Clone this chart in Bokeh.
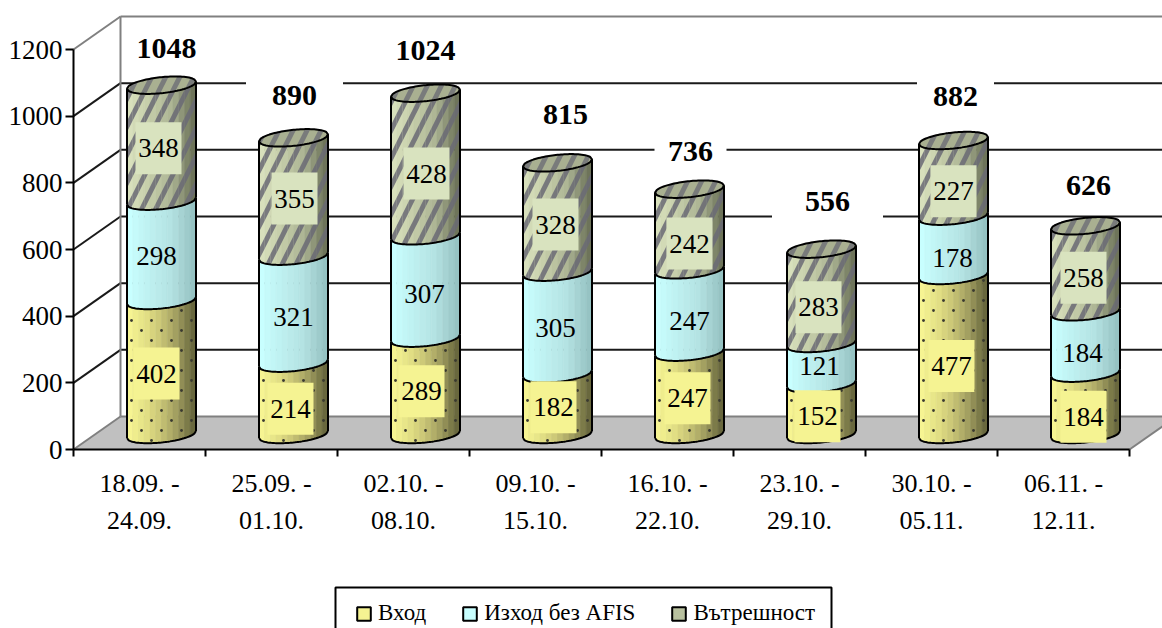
import numpy as np
from bokeh.core.properties import value
from bokeh.embed import file_html
from bokeh.models import FixedTicker, Legend, LegendItem, LinearAxis, Range1d
from bokeh.plotting import figure
from bokeh.resources import INLINE

# ---------- data ----------
periods = ["18.09. -\n24.09.", "25.09. -\n01.10.", "02.10. -\n08.10.", "09.10. -\n15.10.",
           "16.10. -\n22.10.", "23.10. -\n29.10.", "30.10. -\n05.11.", "06.11. -\n12.11."]
series_names = ["Вход", "Изход без AFIS", "Вътрешност"]
vhod = [402, 214, 289, 182, 247, 152, 477, 184]
izhod = [298, 321, 307, 305, 247, 121, 178, 184]
vatr = [348, 355, 428, 328, 242, 283, 227, 258]
totals = [1048, 890, 1024, 815, 736, 556, 882, 626]
y_ticks = [0, 200, 400, 600, 800, 1000, 1200]

# ---------- style: label nudges in px (right, down) ----------
nudge_dx = [[-5, -3, -4, -4, -2, -4, -2, -2], [-5, 0, -1, -2, 0, -2, -1, -3], [-3, 1, 1, -2, 0, -3, 0, -2]]
nudge_dy = [[6, 10, 5, 3, 5, 7, 11, 13], [5, 7, 6.5, 4.5, 9.5, 2, 12, 10], [5, 1.5, 9, 7, 14, 11, 13, 9]]
total_dx = [5, 1, 0, 8, 1, 6, 2, 3]
total_gap = [37, 42, 43, 48, 38, 48, 44, 40]
mask_w = [75, 97, 75, 75, 72, 111, 77, 75]

W, H = 1162, 628
PXX, PXY = 132.0, 1 / 3.0          # px per x unit, px per y unit
X0, Y0 = 73, 449                   # canvas position of data origin
ux = lambda px: px / PXX
uy = lambda px: px / PXY
DEPTH_X, DEPTH_Y = ux(47), uy(33)
BAR_DX, BAR_DY = ux(22), uy(15)    # bar axis position inside the depth
A, B, TILT = 34.5, 8.0, 3.5        # ellipse half-width, half-height, tilt (px)
FONT = "Liberation Serif"

p = figure(width=W, height=H, output_backend="svg", toolbar_location=None,
           x_range=Range1d(-X0 / PXX, (W - X0) / PXX),
           y_range=Range1d(-(H - Y0) / PXY, Y0 / PXY),
           x_axis_location=None, y_axis_location=None, min_border=0,
           outline_line_color=None, background_fill_color="white", border_fill_color="white")
p.grid.visible = False

n = len(periods)
# floor
p.patch([0, DEPTH_X, n + DEPTH_X, n], [0, DEPTH_Y, DEPTH_Y, 0], fill_color="#C0C0C0", line_color=None)
# walls / grid
for t in y_ticks:
    col = "#808080" if t in (0, 1200) else "#1a1a1a"
    p.line([0, DEPTH_X], [t, t + DEPTH_Y], line_color=col, line_width=2)
    if t > 0:
        p.line([DEPTH_X, n + DEPTH_X], [t + DEPTH_Y, t + DEPTH_Y], line_color=col, line_width=2)
p.line([DEPTH_X, DEPTH_X], [DEPTH_Y, 1200 + DEPTH_Y], line_color="#808080", line_width=2)
p.line([DEPTH_X, n + DEPTH_X], [DEPTH_Y, DEPTH_Y], line_color="#808080", line_width=2)
p.line([n, n + DEPTH_X], [0, DEPTH_Y], line_color="#808080", line_width=2)

# masks behind totals
tx = [i + 0.5 + BAR_DX + ux(total_dx[i]) for i in range(n)]
ty = [totals[i] + BAR_DY + uy(total_gap[i]) for i in range(n)]
p.rect(tx, ty, width=[ux(w) for w in mask_w], height=uy(52), fill_color="white", line_color=None)


def ramp(stops):
    t = np.linspace(0, 1, 12)
    pos = np.linspace(0, 1, len(stops))
    out = []
    for v in t:
        c = [int(np.interp(v, pos, [s[k] for s in stops])) for k in range(3)]
        out.append("#%02x%02x%02x" % tuple(c))
    return out


ramps = [
    ramp([(246, 244, 146), (228, 225, 134), (200, 196, 118), (160, 157, 95), (105, 104, 62)]),
    ramp([(200, 255, 255), (190, 240, 240), (180, 226, 226), (150, 195, 195)]),
    ramp([(216, 224, 188), (196, 204, 168), (172, 180, 148), (110, 116, 90)]),
]
box_col = ["#F5F392", None, "#D9E3BF"]


def lower(dx):
    return TILT * dx / A - B * np.sqrt(np.maximum(0, 1 - (dx / A) ** 2))   # up-positive px


def upper(dx):
    return TILT * dx / A + B * np.sqrt(np.maximum(0, 1 - (dx / A) ** 2))


edges = np.linspace(-A, A, 13)
series = [vhod, izhod, vatr]
for i in range(n):
    cx = i + 0.5 + BAR_DX
    base = 0.0
    for s in range(3):
        v = series[s][i]
        y0 = base + BAR_DY
        y1 = base + v + BAR_DY
        xs, ys = [], []
        for j in range(12):
            d = np.linspace(edges[j], edges[j + 1], 5)
            xs.append(list(cx + ux(d)) + list(cx + ux(d[::-1])))
            ys.append(list(y0 + uy(lower(d))) + list(y1 + uy(lower(d[::-1]))))
        p.patches(xs, ys, fill_color=ramps[s], line_color=ramps[s], line_width=0.6)
        if s == 2:
            p.patches(xs, ys, fill_color=None, line_color=None, hatch_pattern="right_diagonal_line",
                      hatch_color="#6a6a74", hatch_alpha=0.85, hatch_scale=28, hatch_weight=5)
        if s == 0:
            # dotted texture
            dot_x, dot_y = [], []
            for row, py in enumerate(np.arange(0, (v + 60) / 3.0, 10.0)):
                for dx in np.arange(-30 + (10 if row % 2 else 0), A, 20.0):
                    yy = py - 6
                    if yy > lower(dx) + 2 and yy < v / 3.0 + lower(dx) - 2:
                        dot_x.append(cx + ux(dx))
                        dot_y.append(y0 + uy(yy))
            p.scatter(dot_x, dot_y, size=2.8, marker="circle", fill_color="#3a3a30", line_color=None)
        # boundaries
        d = np.linspace(-A, A, 41)
        p.line(list(cx + ux(d)), list(y0 + uy(lower(d))), line_color="black", line_width=2)
        p.line([cx - ux(A), cx - ux(A)], [y0 - uy(TILT), y1 - uy(TILT)], line_color="black", line_width=2)
        p.line([cx + ux(A), cx + ux(A)], [y0 + uy(TILT), y1 + uy(TILT)], line_color="black", line_width=2)
        base += v
    # top cap
    d = np.linspace(-A, A, 41)
    y1 = base + BAR_DY
    cap_x = list(cx + ux(d)) + list(cx + ux(d[::-1]))
    cap_y = list(y1 + uy(lower(d))) + list(y1 + uy(upper(d[::-1])))
    p.patch(cap_x, cap_y, fill_color="#A9B091", line_color="black", line_width=2,
            hatch_pattern="right_diagonal_line", hatch_color="#6a6a74", hatch_alpha=0.75,
            hatch_scale=28, hatch_weight=5)

# segment labels
for s in range(3):
    cum = [sum(series[k][i] for k in range(s)) for i in range(n)]
    lx = [i + 0.5 + BAR_DX + ux(nudge_dx[s][i]) for i in range(n)]
    ly = [cum[i] + series[s][i] / 2 + BAR_DY - uy(nudge_dy[s][i]) for i in range(n)]
    if box_col[s]:
        p.rect(lx, ly, width=ux(46), height=uy(52), fill_color=box_col[s], line_color=None)
    p.text(lx, ly, text=[str(v) for v in series[s]], text_font=value(FONT), text_font_size="27px",
           text_align="center", text_baseline="middle", text_color="black")

# totals
p.text(tx, ty, text=[str(v) for v in totals], text_font=value(FONT), text_font_size="30px",
       text_font_style="bold", text_align="center", text_baseline="middle", text_color="black")

# axes
yax = LinearAxis(fixed_location=0, bounds=(0, 1200), ticker=FixedTicker(ticks=y_ticks),
                 axis_line_color="black", axis_line_width=2, major_tick_line_color="black",
                 major_tick_line_width=2, major_tick_in=0, major_tick_out=8, minor_tick_line_color=None,
                 major_label_text_font=FONT, major_label_text_font_size="27px",
                 major_label_text_color="black", major_label_standoff=3)
p.add_layout(yax, "left")
centers = [i + 0.5 for i in range(n)]
xax = LinearAxis(fixed_location=0, bounds=(0, n),
                 ticker=FixedTicker(ticks=centers, minor_ticks=list(range(n + 1))),
                 major_label_overrides={c: t for c, t in zip(centers, periods)},
                 axis_line_color="black", axis_line_width=2,
                 major_tick_line_color=None, major_tick_in=0, major_tick_out=0,
                 minor_tick_line_color="black", minor_tick_line_width=2, minor_tick_in=0, minor_tick_out=7,
                 major_label_standoff=12,
                 major_label_text_font=FONT, major_label_text_font_size="26px",
                 major_label_text_color="black", major_label_text_line_height=1.31)
p.add_layout(xax, "below")

# legend box, drawn in plot units
p.quad(left=[ux(335 - X0)], right=[ux(831 - X0)], top=[uy(Y0 - 587)], bottom=[uy(Y0 - 640)],
       fill_color="white", line_color="black", line_width=2)
leg_cols = ["#F5F392", "#C8FFFF", "#B9C19F"]
items = []
for name, c in zip(series_names, leg_cols):
    r = p.quad(left=[float("nan")], right=[float("nan")], top=[float("nan")], bottom=[float("nan")],
               fill_color=c, line_color="black", line_width=2)
    items.append(LegendItem(label=name, renderers=[r]))
leg = Legend(items=items, orientation="horizontal", location=(355, 2), border_line_color=None,
             background_fill_alpha=0.0,
             label_text_font=FONT, label_text_font_size="23px", label_text_color="black",
             glyph_width=17, glyph_height=17, label_standoff=6, spacing=35, padding=10,
             margin=0, click_policy="none")
p.add_layout(leg, "center")

open("out.html", "w").write(file_html(p, INLINE))
